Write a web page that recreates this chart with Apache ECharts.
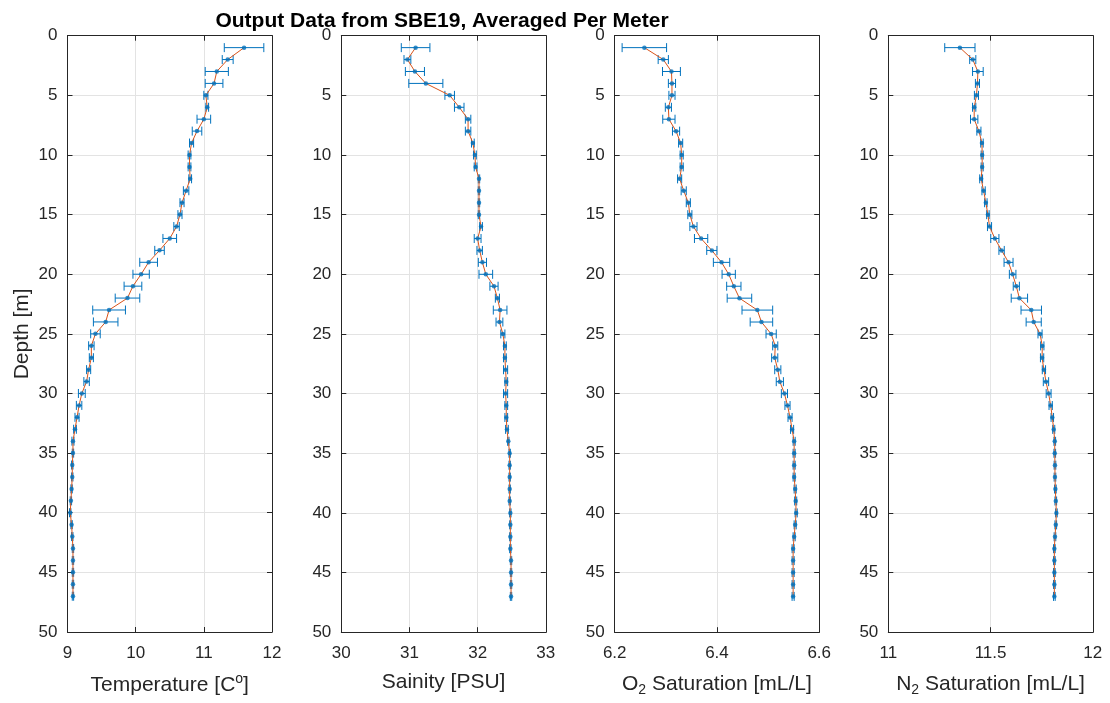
<!DOCTYPE html>
<html>
<head>
<meta charset="utf-8">
<script src="https://cdn.jsdelivr.net/npm/echarts@6/dist/echarts.min.js"></script>
<style>
  html, body { margin: 0; padding: 0; background: #fff; }
  #chart { width: 1110px; height: 703px; }
</style>
</head>
<body>
<div id="chart"></div>
<script>
// Depth bins (m), one per averaged meter
const depths = [1,2,3,4,5,6,7,8,9,10,11,12,13,14,15,16,17,18,19,20,21,22,23,24,25,26,27,28,29,30,31,32,33,34,35,36,37,38,39,40,41,42,43,44,45,46,47];

// Temperature [C] and its +/- spread
const temperature = [11.59,11.35,11.19,11.15,11.03,11.05,11.00,10.90,10.82,10.79,10.79,10.80,10.74,10.68,10.65,10.60,10.50,10.35,10.19,10.08,9.96,9.88,9.61,9.56,9.41,9.35,9.35,9.31,9.28,9.21,9.17,9.14,9.11,9.08,9.08,9.07,9.07,9.06,9.05,9.04,9.06,9.07,9.08,9.08,9.08,9.08,9.08];
const temperatureErr = [0.29,0.08,0.17,0.13,0.03,0.02,0.10,0.07,0.03,0.02,0.02,0.02,0.04,0.03,0.03,0.04,0.10,0.07,0.13,0.12,0.13,0.18,0.24,0.18,0.07,0.04,0.03,0.03,0.04,0.05,0.04,0.03,0.02,0.015,0.01,0.01,0.01,0.01,0.01,0.01,0.01,0.01,0.01,0.01,0.01,0.01,0.01];

// Salinity [PSU]
const salinity = [31.09,30.97,31.08,31.24,31.59,31.73,31.86,31.86,31.93,31.96,31.97,32.02,32.02,32.02,32.02,32.05,32.00,32.03,32.07,32.12,32.24,32.29,32.33,32.32,32.37,32.40,32.40,32.41,32.42,32.41,32.42,32.42,32.43,32.45,32.47,32.47,32.47,32.47,32.47,32.48,32.48,32.48,32.48,32.49,32.49,32.49,32.49];
const salinityErr = [0.21,0.05,0.14,0.25,0.07,0.07,0.04,0.04,0.02,0.02,0.02,0.01,0.01,0.01,0.01,0.02,0.05,0.04,0.06,0.10,0.06,0.03,0.10,0.05,0.03,0.02,0.02,0.03,0.02,0.03,0.02,0.02,0.02,0.01,0.01,0.01,0.01,0.01,0.01,0.01,0.01,0.01,0.01,0.01,0.01,0.01,0.01];

// O2 saturation [mL/L]
const oxygen = [6.258,6.295,6.311,6.312,6.312,6.305,6.306,6.320,6.329,6.331,6.331,6.327,6.335,6.344,6.347,6.354,6.369,6.390,6.409,6.423,6.433,6.444,6.479,6.487,6.506,6.514,6.513,6.519,6.523,6.532,6.538,6.543,6.547,6.551,6.551,6.551,6.551,6.553,6.554,6.555,6.553,6.551,6.549,6.549,6.549,6.549,6.549];
const oxygenErr = [0.0435,0.010,0.0175,0.007,0.006,0.006,0.012,0.007,0.004,0.003,0.003,0.004,0.005,0.004,0.004,0.007,0.013,0.010,0.016,0.013,0.014,0.024,0.030,0.022,0.010,0.005,0.006,0.006,0.007,0.006,0.005,0.004,0.003,0.002,0.002,0.002,0.002,0.002,0.002,0.002,0.002,0.002,0.002,0.002,0.002,0.002,0.002];

// N2 saturation [mL/L]
const nitrogen = [11.350,11.413,11.438,11.436,11.431,11.420,11.420,11.443,11.458,11.459,11.459,11.454,11.466,11.477,11.487,11.495,11.521,11.554,11.588,11.608,11.626,11.641,11.699,11.711,11.742,11.753,11.752,11.761,11.771,11.784,11.794,11.802,11.809,11.814,11.814,11.815,11.815,11.817,11.819,11.822,11.819,11.815,11.812,11.812,11.812,11.812,11.812];
const nitrogenErr = [0.074,0.015,0.026,0.010,0.010,0.008,0.018,0.010,0.006,0.005,0.005,0.007,0.008,0.006,0.006,0.010,0.020,0.013,0.022,0.016,0.015,0.040,0.050,0.037,0.010,0.008,0.008,0.008,0.013,0.012,0.008,0.006,0.005,0.004,0.004,0.004,0.004,0.004,0.004,0.004,0.004,0.004,0.004,0.004,0.004,0.004,0.004];

// Axis ranges and tick labels
const depthTicks = [0,5,10,15,20,25,30,35,40,45,50];
const panels = [
  { vals: temperature, err: temperatureErr, min: 9,   max: 12,  step: 1,   ticks: ['9','10','11','12'],
    name: '{t|Temperature [C}{sup|o}{t|]}', gap: 40 },
  { vals: salinity,    err: salinityErr,    min: 30,  max: 33,  step: 1,   ticks: ['30','31','32','33'],
    name: '{t|Sainity [PSU]}', gap: 37 },
  { vals: oxygen,      err: oxygenErr,      min: 6.2, max: 6.6, step: 0.2, ticks: ['6.2','6.4','6.6'],
    name: '{t|O}{sub|2}{t| Saturation [mL/L]}', gap: 37 },
  { vals: nitrogen,    err: nitrogenErr,    min: 11,  max: 12,  step: 0.5, ticks: ['11','11.5','12'],
    name: '{t|N}{sub|2}{t| Saturation [mL/L]}', gap: 37 }
];

const lefts = [67.5, 341.3, 614.7, 888.3];
const plotW = 204.5, plotTop = 35.7, plotH = 596.5;

const axisCol = '#262626';
const fontFam = '"Liberation Sans", Arial, Helvetica, sans-serif';
const blue = '#0072BD', orange = '#D95319';

const grid = [], xAxis = [], yAxis = [], series = [];

panels.forEach((p, i) => {
  grid.push({ left: lefts[i], top: plotTop, width: plotW, height: plotH, containLabel: false });

  const fmt = (v) => {
    const k = Math.round((v - p.min) / p.step);
    return p.ticks[k] !== undefined ? p.ticks[k] : '';
  };

  // bottom axis with labels and grid
  xAxis.push({
    type: 'value', gridIndex: i, min: p.min, max: p.max, interval: p.step, position: 'bottom',
    axisLine: { show: true, onZero: false, lineStyle: { color: axisCol, width: 1 } },
    axisTick: { show: true, inside: true, length: 5, lineStyle: { color: axisCol } },
    axisLabel: { show: true, margin: 13, color: '#262626', fontSize: 17, fontFamily: fontFam, formatter: fmt },
    splitLine: { show: true, lineStyle: { color: '#e3e3e3', width: 1 } },
    name: p.name, nameLocation: 'middle', nameGap: p.gap,
    nameTextStyle: {
      color: '#262626', fontFamily: fontFam,
      rich: {
        t: { fontSize: 21, fontFamily: fontFam, color: '#262626', lineHeight: 26 },
        sup: { fontSize: 14, fontFamily: fontFam, color: '#262626', verticalAlign: 'top', lineHeight: 26, padding: [0, 0, 12, 0] },
        sub: { fontSize: 14, fontFamily: fontFam, color: '#262626', verticalAlign: 'bottom', lineHeight: 26, padding: [16, 0, 0, 0] }
      }
    }
  });

  yAxis.push({
    type: 'value', gridIndex: i, min: 0, max: 50, interval: 5, inverse: true, position: 'left',
    axisLine: { show: true, onZero: false, lineStyle: { color: axisCol, width: 1 } },
    axisTick: { show: true, inside: true, length: 5, lineStyle: { color: axisCol } },
    axisLabel: { show: true, margin: 10, color: '#262626', fontSize: 17, fontFamily: fontFam,
      formatter: (v) => depthTicks.indexOf(Math.round(v)) >= 0 ? String(Math.round(v)) : '' },
    splitLine: { show: true, lineStyle: { color: '#e3e3e3', width: 1 } },
    name: i === 0 ? 'Depth [m]' : '', nameLocation: 'middle', nameGap: 35, nameRotate: 90,
    nameTextStyle: { color: '#262626', fontSize: 21, fontFamily: fontFam }
  });
});

// box edges: top and right axes carrying only ticks
panels.forEach((p, i) => {
  xAxis.push({
    type: 'value', gridIndex: i, min: p.min, max: p.max, interval: p.step, position: 'top',
    axisLine: { show: true, onZero: false, lineStyle: { color: axisCol, width: 1 } },
    axisTick: { show: true, inside: true, length: 5, lineStyle: { color: axisCol } },
    axisLabel: { show: false }, splitLine: { show: false }
  });
  yAxis.push({
    type: 'value', gridIndex: i, min: 0, max: 50, interval: 5, inverse: true, position: 'right',
    axisLine: { show: true, onZero: false, lineStyle: { color: axisCol, width: 1 } },
    axisTick: { show: true, inside: true, length: 5, lineStyle: { color: axisCol } },
    axisLabel: { show: false }, splitLine: { show: false }
  });
});

function renderErrorBar(params, api) {
  const d = api.value(2);
  const lo = api.coord([api.value(0), d]);
  const hi = api.coord([api.value(1), d]);
  const cap = 4.5;
  const st = { stroke: blue, lineWidth: 1 };
  return {
    type: 'group',
    children: [
      { type: 'line', shape: { x1: lo[0], y1: lo[1], x2: hi[0], y2: hi[1] }, style: st },
      { type: 'line', shape: { x1: lo[0], y1: lo[1] - cap, x2: lo[0], y2: lo[1] + cap }, style: st },
      { type: 'line', shape: { x1: hi[0], y1: hi[1] - cap, x2: hi[0], y2: hi[1] + cap }, style: st }
    ]
  };
}

panels.forEach((p, i) => {
  const errData = depths.map((d, k) => [p.vals[k] - p.err[k], p.vals[k] + p.err[k], d]);
  const ptData = depths.map((d, k) => [p.vals[k], d]);
  series.push({
    type: 'custom', xAxisIndex: i, yAxisIndex: i, renderItem: renderErrorBar,
    data: errData, encode: { x: [0, 1], y: 2 }, z: 2, silent: true, clip: false
  });
  series.push({
    type: 'line', xAxisIndex: i, yAxisIndex: i, data: ptData, showSymbol: false,
    lineStyle: { color: orange, width: 1 }, z: 3, silent: true, animation: false
  });
  series.push({
    type: 'scatter', xAxisIndex: i, yAxisIndex: i, data: ptData, symbolSize: 4.5,
    itemStyle: { color: blue }, z: 4, silent: true
  });
});

const chart = echarts.init(document.getElementById('chart'), null, { renderer: 'canvas' });
chart.setOption({
  backgroundColor: '#ffffff',
  animation: false,
  title: {
    text: 'Output Data from SBE19, Averaged Per Meter',
    left: 437, top: 6, textAlign: 'center',
    textStyle: { fontSize: 21, fontWeight: 'bold', color: '#000', fontFamily: fontFam }
  },
  grid: grid,
  xAxis: xAxis,
  yAxis: yAxis,
  series: series
});
</script>
</body>
</html>
